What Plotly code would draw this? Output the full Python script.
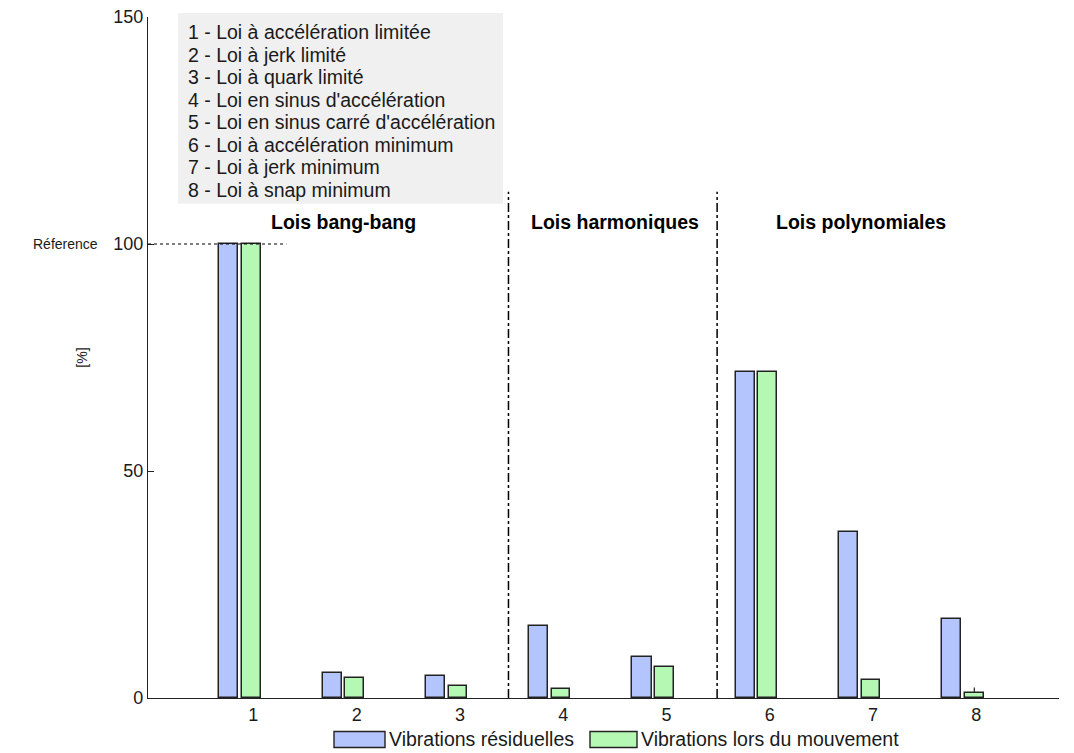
import plotly.graph_objects as go

categories = [1, 2, 3, 4, 5, 6, 7, 8]
tick_labels = ["1", "2", "3", "4", "5", "6", "7", "8"]
residual = [100, 5.4, 4.9, 15.9, 9.1, 71.7, 36.6, 17.4]
movement = [100, 4.5, 2.6, 2.0, 6.9, 71.7, 4.0, 1.1]
movement_err = [0, 0, 0, 0, 0, 0, 0, 1.2]
law_names = [
    "1 - Loi à accélération limitée",
    "2 - Loi à jerk limité",
    "3 - Loi à quark limité",
    "4 - Loi en sinus d'accélération",
    "5 - Loi en sinus carré d'accélération",
    "6 - Loi à accélération minimum",
    "7 - Loi à jerk minimum",
    "8 - Loi à snap minimum",
]
series_names = ["Vibrations résiduelles", "Vibrations lors du mouvement"]
group_titles = ["Lois bang-bang", "Lois harmoniques", "Lois polynomiales"]
group_title_x = [1.87, 4.50, 6.88]
separators_x = [3.47, 5.49]
reference_value = 100

FONT = "Liberation Sans, Arial, sans-serif"
BLUE = "#b4c4fc"
GREEN = "#b4f8b4"
EDGE = "#222222"
TXT = "#1a1a1a"

# page body has an 8px default margin: plot area in window = x 148..1059, y 17..698.5
PX0, PW = 148.0, 911.0
PY0, PH = 698.5, 681.5


def px(x):
    return (x - PX0) / PW


def py(y):
    return (PY0 - y) / PH


fig = go.Figure()
fig.add_trace(go.Bar(
    x=categories, y=residual, name=series_names[0],
    marker=dict(color=BLUE, line=dict(color=EDGE, width=1.5)),
    width=0.185, offset=-0.33, showlegend=False,
))
fig.add_trace(go.Bar(
    x=categories, y=movement, name=series_names[1],
    marker=dict(color=GREEN, line=dict(color=EDGE, width=1.5)),
    width=0.18, offset=-0.11, showlegend=False,
    error_y=dict(type="data", array=movement_err, arrayminus=[0] * 8,
                 symmetric=False, thickness=1.2, width=0, color=EDGE),
))

shapes = []
shapes.append(dict(type="line", xref="x", yref="y", x0=-0.02, x1=1.32,
                   y0=reference_value, y1=reference_value,
                   line=dict(color="black", width=1, dash="3px,3px")))
for sx in separators_x:
    shapes.append(dict(type="line", xref="x", yref="y", x0=sx, x1=sx, y0=0, y1=111.5,
                       line=dict(color="black", width=1.5, dash="dashdot")))
shapes.append(dict(type="rect", xref="paper", yref="paper",
                   x0=px(178), x1=px(503), y0=py(204), y1=py(13),
                   fillcolor="#f0f0f0", line=dict(width=0), layer="above"))

annotations = []
for i, name in enumerate(law_names):
    annotations.append(dict(
        xref="paper", yref="paper", x=px(186), y=py(32 + i * 22.6),
        text=name, showarrow=False, xanchor="left", yanchor="middle",
        font=dict(family=FONT, size=19.5, color=TXT)))
for gx, gt in zip(group_title_x, group_titles):
    annotations.append(dict(xref="x", yref="paper", x=gx, y=py(222), text="<b>" + gt + "</b>",
                            showarrow=False, xanchor="center", yanchor="middle",
                            font=dict(family=FONT, size=19.5, color="black")))
annotations.append(dict(xref="paper", yref="y", x=px(100), y=reference_value,
                        text="Réference", showarrow=False, xanchor="right", yanchor="middle",
                        font=dict(family=FONT, size=14, color=TXT)))

legend_items = [(334, 385, BLUE, series_names[0]), (590, 637, GREEN, series_names[1])]
for x0, x1, col, nm in legend_items:
    shapes.append(dict(type="rect", xref="paper", yref="paper",
                       x0=px(x0), x1=px(x1), y0=py(748), y1=py(732),
                       fillcolor=col, line=dict(color=EDGE, width=1.4)))
    annotations.append(dict(xref="paper", yref="paper", x=px(x1 + 2),
                            y=py(740), text=nm, showarrow=False,
                            xanchor="left", yanchor="middle",
                            font=dict(family=FONT, size=19.5, color=TXT)))

fig.update_layout(
    width=1066, height=745,
    margin=dict(l=140, r=15, t=9, b=54.5, autoexpand=False),
    paper_bgcolor="white", plot_bgcolor="white",
    font=dict(family=FONT, size=18, color=TXT),
    shapes=shapes, annotations=annotations, showlegend=False,
    bargap=0,
)
fig.update_xaxes(range=[-0.02, 8.8], tickvals=categories, ticktext=tick_labels,
                 showgrid=False, zeroline=False, showline=True, linecolor="#222",
                 linewidth=1.3, ticks="", tickfont=dict(size=18), automargin=False)
fig.update_yaxes(range=[0, 150], tickvals=[0, 50, 100, 150], showgrid=False,
                 zeroline=False, showline=True, linecolor="#222", linewidth=1.3,
                 ticks="inside", ticklen=6, tickcolor="#222",
                 ticklabeloverflow="allow",
                 title=dict(text="[%]", font=dict(size=14), standoff=22),
                 tickfont=dict(size=18), automargin=False)

fig.write_html("out.html")
